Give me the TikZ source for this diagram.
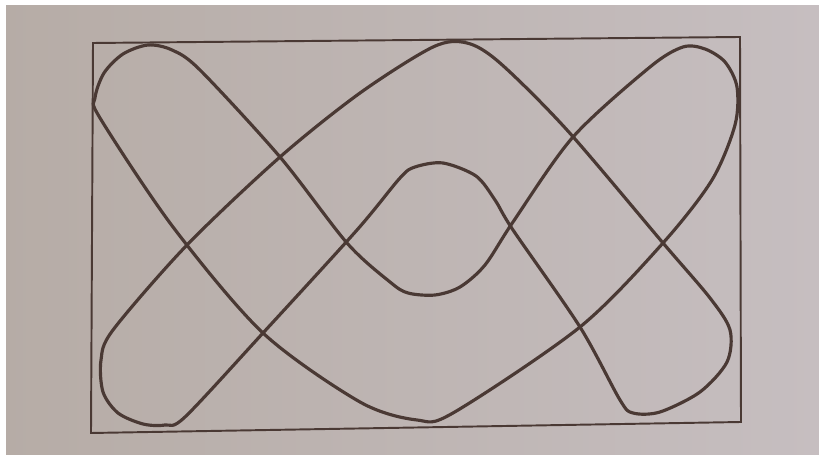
\documentclass[tikz,border=0pt]{standalone}
\usepackage{tikz}
\usepackage{xcolor}

\definecolor{papierg}{RGB}{182,172,166}
\definecolor{papierd}{RGB}{198,190,192}
\definecolor{crayon}{RGB}{74,57,52}

\begin{document}
\begin{tikzpicture}[x=0.02cm, y=-0.02cm,
    cadre/.style={crayon, line width=1.1pt, line join=miter},
    courbe/.style={crayon, line width=1.8pt, line cap=round, line join=round}]
    % Fond (photo du papier)
    \useasboundingbox (0,0) rectangle (819,455);
    \shade[left color=papierg, right color=papierd] (0,0) rectangle (819,455);
    \fill[white] (0,0) rectangle (819,5);
    \fill[white] (0,0) rectangle (6,455);

    % Cadre
    \draw[cadre] (93,43) -- (740,37) -- (741,422) -- (91,433) -- cycle;

    % Premiere courbe : arche du haut, boucle bas droite, arche interieure, boucle bas gauche
    \draw[courbe] plot[smooth cycle, tension=0.5] coordinates {
        (467,43) (500,63) (567,130) (663,243) (710,298) (730,330)
        (727,362) (700,392) (660,412) (633,413) (620,400)
        (580,327) (513,230) (495,200) (476,176) (443,163)
        (415,167) (400,178) (357,230) (263,333)
        (185,417) (165,425) (143,424) (118,413) (103,392) (101,360)
        (113,330) (187,245) (280,157) (360,93)
        (433,47)};

    % Deuxieme courbe : boucle haut gauche, cuvette du bas, boucle haut droite, cuvette interieure
    \draw[courbe] plot[smooth cycle, tension=0.5] coordinates {
        (148,45) (123,54) (104,73) (95,98) (100,118) (173,227)
        (263,333) (360,402) (417,420) (453,413)
        (580,327) (663,243) (712,180) (735,125) (737,87) (725,62) (705,49) (683,47)
        (650,67) (573,137) (513,222) (485,265)
        (460,287) (435,295) (408,293) (390,282) (347,243)
        (280,157) (200,70) (172,50)};
\end{tikzpicture}
\end{document}
